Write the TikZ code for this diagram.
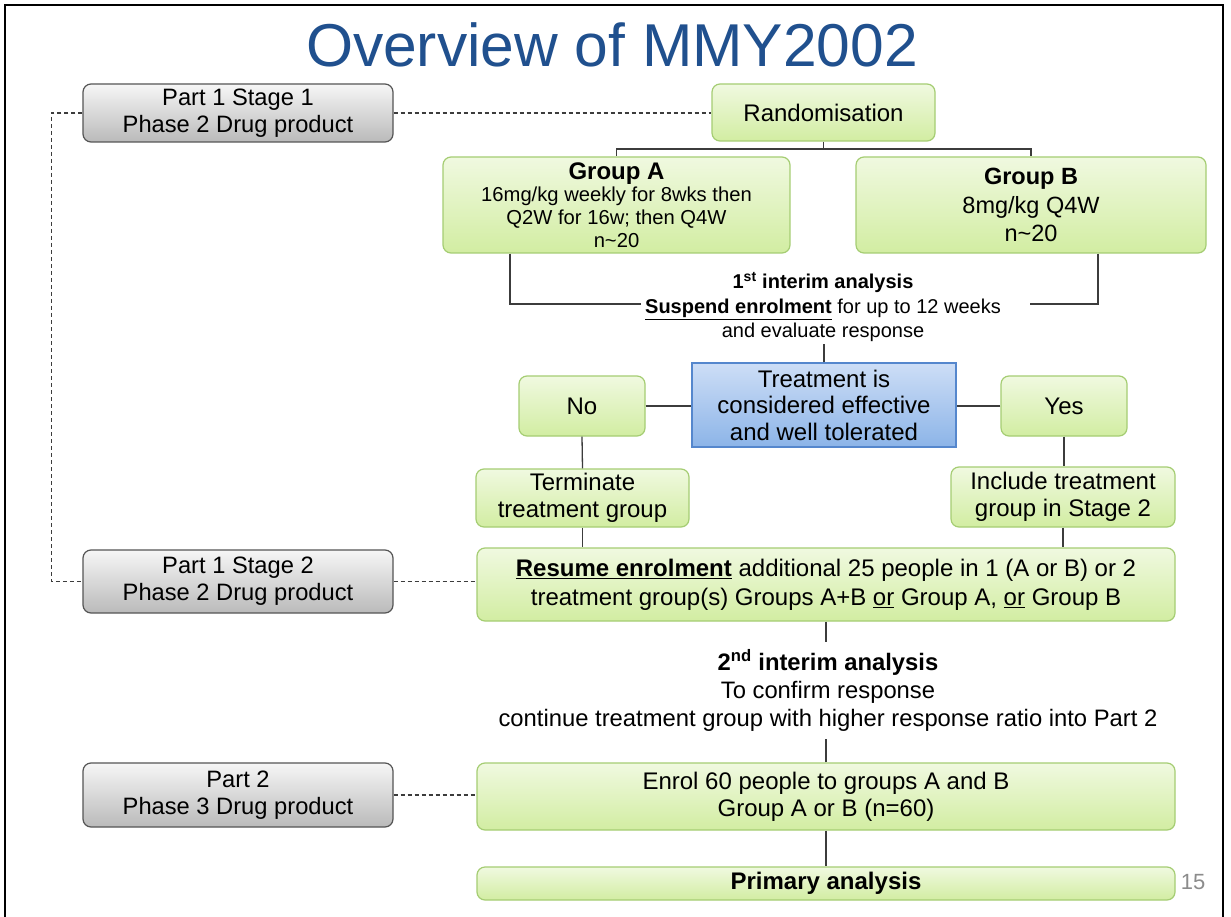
\documentclass[tikz,border=0pt]{standalone}
\usepackage{fontspec}
\setmainfont{Liberation Sans}
\definecolor{gborder}{RGB}{165,205,115}
\definecolor{gtop}{RGB}{240,249,224}
\definecolor{gbot}{RGB}{210,237,162}
\definecolor{grborder}{RGB}{85,85,85}
\definecolor{grtop}{RGB}{246,246,246}
\definecolor{grbot}{RGB}{186,186,186}
\definecolor{bborder}{RGB}{85,135,205}
\definecolor{btop}{RGB}{205,222,246}
\definecolor{bbot}{RGB}{140,180,232}
\definecolor{lineclr}{RGB}{60,60,60}
\definecolor{titleblue}{RGB}{32,80,142}
\definecolor{pagegray}{RGB}{140,140,140}
\begin{document}
\begin{tikzpicture}[x=1pt,y=-1pt,
  greenbox/.style={rounded corners=8pt, draw=gborder, line width=1.2pt,
    top color=gtop, bottom color=gbot,
    align=center, inner sep=0pt, font=\fontsize{24}{27}\selectfont},
  graybox/.style={rounded corners=8pt, draw=grborder, line width=1.2pt,
    top color=grtop, bottom color=grbot,
    align=center, inner sep=0pt, minimum width=310pt, font=\fontsize{23.7}{27}\selectfont},
  bluebox/.style={draw=bborder, line width=1.2pt,
    top color=btop, bottom color=bbot,
    align=center, inner sep=0pt, font=\fontsize{24}{26.5}\selectfont},
  conn/.style={draw=lineclr, line width=1.3pt},
  dconn/.style={draw=lineclr, line width=1.1pt, dash pattern=on 4pt off 3pt},
  plain/.style={align=center, inner sep=0pt}
]
\useasboundingbox (0,0) rectangle (1231,917);
\fill[white] (0,0) rectangle (1231,917);
\draw[line width=2.5pt] (5,920) -- (5,5) -- (1223,5) -- (1223,920);

\node[plain, font=\fontsize{60.5}{70}\selectfont, text=titleblue] (title) at (612,45) {Overview of MMY2002};

% left gray boxes
\node[graybox, minimum height=58pt] (p11) at (238,113) {Part 1 Stage 1\\Phase 2 Drug product};
\node[graybox, minimum height=63pt] (p12) at (238,581.5) {Part 1 Stage 2\\Phase 2 Drug product};
\node[graybox, minimum height=64pt] (p2) at (238,795) {Part 2\\Phase 3 Drug product};

% flow
\node[greenbox, minimum width=223pt, minimum height=57pt] (rand) at (823.5,112.5) {Randomisation};
\node[greenbox, minimum width=347pt, minimum height=96pt, font=\fontsize{20.2}{22.7}\selectfont] (ga) at (616.5,205)
  {{\fontsize{24}{24}\selectfont\bfseries Group A}\\16mg/kg weekly for 8wks then\\Q2W for 16w; then Q4W\\n\textasciitilde 20};
\node[greenbox, minimum width=350pt, minimum height=96pt, font=\fontsize{23.5}{28.5}\selectfont] (gb) at (1031,205)
  {\textbf{Group B}\\8mg/kg Q4W\\n\textasciitilde 20};

\node[plain, font=\fontsize{20}{24.5}\selectfont] (int1) at (823,307)
  {\textbf{1\textsuperscript{st} interim analysis}\\\underline{\textbf{Suspend enrolment}} for up to 12 weeks\\and evaluate response};

\node[bluebox, minimum width=264pt, minimum height=84pt] (blue) at (824,405)
  {Treatment is\\considered effective\\and well tolerated};
\node[greenbox, minimum width=126pt, minimum height=60pt] (no) at (582,406) {No};
\node[greenbox, minimum width=126pt, minimum height=60pt] (yes) at (1064,406) {Yes};
\node[greenbox, minimum width=213pt, minimum height=58pt] (term) at (582.5,498) {Terminate\\treatment group};
\node[greenbox, minimum width=224pt, minimum height=60pt] (incl) at (1063,497) {Include treatment\\group in Stage 2};

\node[greenbox, minimum width=698pt, minimum height=73pt, font=\fontsize{24}{29}\selectfont] (res) at (826,584.5)
  {\underline{\textbf{Resume enrolment}} additional 25 people in 1 (A or B) or 2\\treatment group(s) Groups A+B \underline{or} Group A, \underline{or} Group B};

\node[plain, font=\fontsize{23.8}{28}\selectfont] (int2) at (828,690)
  {\textbf{2\textsuperscript{nd} interim analysis}\\To confirm response\\continue treatment group with higher response ratio into Part 2};

\node[greenbox, minimum width=698pt, minimum height=67pt] (enrol) at (826,796.5)
  {Enrol 60 people to groups A and B\\Group A or B (n=60)};
\node[greenbox, minimum width=698pt, minimum height=33pt] (prim) at (826,883.5) {\textbf{Primary analysis}};

\node[plain, font=\fontsize{22}{24}\selectfont, text=pagegray] (pg) at (1193,882) {15};

% connectors
\coordinate (ax) at (510,0);
\coordinate (bx) at (1098,0);
\coordinate (il) at (641,304);
\coordinate (ir) at (1030,304);
\coordinate (tree) at (0,149);
\draw[conn] (rand.south) -- (rand.south |- tree) -| (ga.north);
\draw[conn] (rand.south |- tree) -| (gb.north);
\draw[conn] (ga.south -| ax) |- (il);
\draw[conn] (gb.south -| bx) |- (ir);
\draw[conn] (blue.north) -- ++(0,-18);
\draw[conn] (no.east) -- (no.east -| blue.west);
\draw[conn] (yes.west) -- (yes.west -| blue.east);
\draw[conn] (no.south) -- (term.north);
\draw[conn] (yes.south) -- (yes.south |- incl.north);
\draw[conn] (term.south) -- (term.south |- res.north);
\draw[conn] (incl.south) -- (incl.south |- res.north);
\draw[conn] (res.south) -- ++(0,20);
\draw[conn] (enrol.north) -- ++(0,-23);
\draw[conn] (enrol.south) -- (prim.north);

% dashed links
\draw[dconn] (p11.east) -- (p11.east -| rand.west);
\draw[dconn] (p11.west) -- ++(-31,0) |- (p12.west);
\draw[dconn] (p12.east) -- (p12.east -| res.west);
\draw[dconn] (p2.east) -- (p2.east -| enrol.west);
\end{tikzpicture}
\end{document}
